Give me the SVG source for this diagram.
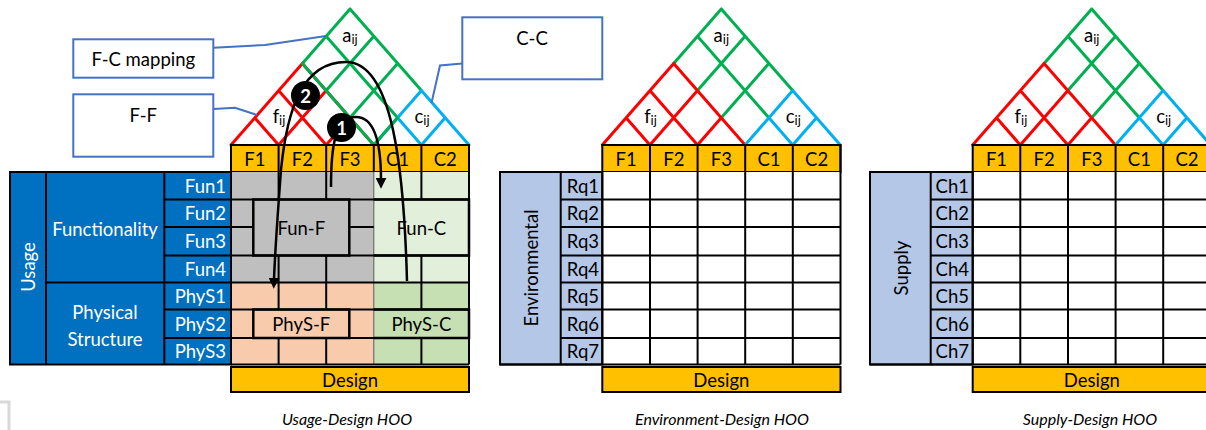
<svg xmlns="http://www.w3.org/2000/svg" width="1206" height="430" viewBox="0 0 1206 430">
<style>
.t{font-family:Lato,"Liberation Sans",sans-serif;font-size:18.5px;fill:#000;text-anchor:middle;dominant-baseline:central}
.e{text-anchor:end}
.w{fill:#fff}
.cap{font-style:italic;font-size:16px}
.hdr{fill:#FFC000;stroke:#000;stroke-width:2}
.ln{fill:none;stroke:#000;stroke-width:2}
.thin{fill:none;stroke:#595959;stroke-width:1}
.box{fill:none;stroke:#000;stroke-width:2.5}
.r{stroke:#FF0000}.g{stroke:#00B050}.c{stroke:#00B0F0}
.co{fill:#fff;stroke:#4472C4;stroke-width:2}
.cl{fill:none;stroke:#4472C4;stroke-width:2}
.arr{fill:none;stroke:#000;stroke-width:2.5;marker-end:url(#ah)}
.lbl{fill:#B4C7E7;stroke:#000;stroke-width:2}
.blue{fill:#0070C0;stroke:#000;stroke-width:2}
.sub{font-size:13px}
</style>
<defs>
<marker id="ah" viewBox="0 0 10 10" refX="2" refY="5" markerWidth="4.4" markerHeight="4.4" orient="auto"><path d="M0,0L10,5L0,10z" fill="#000"/></marker>
<g id="roof" fill="none" stroke-width="3" stroke-linecap="round">
<path class="g" d="M71.4,-81.6L119,-136M95.2,-54.4L142.8,-108.8M119,-27.2L166.6,-81.6M166.6,-27.2L95.2,-108.8M190.4,-54.4L119,-136"/>
<path class="r" d="M0,0L71.4,-81.6M47.6,0L95.2,-54.4M95.2,0L119,-27.2M47.6,0L23.8,-27.2M95.2,0L47.6,-54.4M142.8,0L71.4,-81.6"/>
<path class="c" d="M142.8,0L190.4,-54.4M190.4,0L214.2,-27.2M190.4,0L166.6,-27.2M238,0L190.4,-54.4"/>
</g>
</defs>
<rect width="1206" height="430" fill="#fff"/>

<!-- ============ Usage-Design HOO ============ -->
<g id="house-usage">
<use href="#roof" transform="translate(231,145)"/>
<path d="M373.8,145L302.4,63.4M373.8,145L397.6,117.8" fill="none" stroke="#00B050" stroke-width="3" stroke-linecap="round"/>
<text class="t" x="350" y="35">a<tspan class="sub" dy="4">ij</tspan></text>
<text class="t" x="279" y="116">f<tspan class="sub" dy="4">ij</tspan></text>
<text class="t" x="422" y="116">c<tspan class="sub" dy="4">ij</tspan></text>
<rect class="hdr" x="231" y="145" width="238" height="27"/>
<path class="ln" d="M278.6,145V172M326.2,145V172M373.8,145V172M421.4,145V172"/>
<text class="t" x="254.8" y="158.5">F1</text><text class="t" x="302.4" y="158.5">F2</text><text class="t" x="350" y="158.5">F3</text><text class="t" x="397.6" y="158.5">C1</text><text class="t" x="445.2" y="158.5">C2</text>
<rect x="231" y="172" width="142.8" height="110.5" fill="#BFBFBF"/>
<rect x="373.8" y="172" width="95.2" height="110.5" fill="#E2EFDA"/>
<rect x="231" y="282.5" width="142.8" height="82" fill="#F8CBAD"/>
<rect x="373.8" y="282.5" width="95.2" height="82" fill="#C6E0B4"/>
<path class="thin" d="M373.8,172V364.5"/>
<path class="ln" d="M231,199.5H469M231,227H253.3M349.3,227H373.8M231,255.5H469M231,282.5H469M231,309.5H469M231,338H469M231,364.5H469M278.6,172V199.5M326.2,172V199.5M421.4,172V199.5M278.6,255.5V309.5M326.2,255.5V309.5M421.4,255.5V309.5M278.6,338V364.5M326.2,338V364.5M421.4,338V364.5M469,172V364.5M231,172V364.5"/>
<rect class="box" x="253.3" y="199.5" width="96" height="56"/>
<rect class="box" x="253.3" y="309.5" width="96" height="28.5"/>
<path class="box" d="M373.8,199.5H469V255.5H373.8M373.8,309.5H469V338H373.8"/>
<text class="t" x="301.3" y="227.5">Fun-F</text>
<text class="t" x="421.4" y="227.5">Fun-C</text>
<text class="t" x="301.3" y="323.7">PhyS-F</text>
<text class="t" x="421.4" y="323.7">PhyS-C</text>
<rect class="hdr" x="231" y="367" width="238" height="25"/>
<text class="t" x="350" y="379.5">Design</text>
<rect class="blue" x="10" y="172" width="221" height="192.5"/>
<path class="ln" d="M46,172V364.5M164.3,172V364.5M46,282.5H231M164.3,199.5H231M164.3,227H231M164.3,255.5H231M164.3,309.5H231M164.3,338H231"/>
<text class="t w" transform="translate(28,267) rotate(-90)">Usage</text>
<text class="t w" x="105" y="229">Functionality</text>
<text class="t w" x="105" y="312">Physical</text>
<text class="t w" x="105" y="339">Structure</text>
<text class="t w e" x="226" y="185.7">Fun1</text>
<text class="t w e" x="226" y="213.2">Fun2</text>
<text class="t w e" x="226" y="241.2">Fun3</text>
<text class="t w e" x="226" y="269">Fun4</text>
<text class="t w e" x="226" y="296">PhyS1</text>
<text class="t w e" x="226" y="323.7">PhyS2</text>
<text class="t w e" x="226" y="351.2">PhyS3</text>
<text class="t cap" x="347" y="418">Usage-Design HOO</text>
</g>

<g id="connectors">
<path class="arr" d="M407,281C404,170 393,62 346,62C302,62 287,110 281,170C278,210 275,250 274,280"/>
<path class="arr" d="M331,187C331,150 334,117 356,117C374,117 381,140 381,180"/>
<path class="cl" d="M213.3,47.7L265,45L326,36"/>
<path class="cl" d="M213.3,109L235,107.7L257,115"/>
<path class="cl" d="M462.3,63.5L440,65.5L431.5,103"/>
</g>
<g id="badge-2"><circle cx="305.5" cy="95.5" r="14.5" fill="#000"/><text class="t w" x="305.5" y="96" font-weight="bold">2</text></g>
<g id="badge-1"><circle cx="341.5" cy="127.5" r="14.5" fill="#000"/><text class="t w" x="341.5" y="128" font-weight="bold">1</text></g>

<g id="callout-fc"><rect class="co" x="73.3" y="39.3" width="140" height="38.4"/><text class="t" x="143.3" y="59">F-C mapping</text></g>
<g id="callout-ff"><rect class="co" x="73.3" y="94.3" width="140" height="62.4"/><text class="t" x="143.3" y="115">F-F</text></g>
<g id="callout-cc"><rect class="co" x="462.3" y="17.3" width="140" height="62"/><text class="t" x="532" y="38">C-C</text></g>

<!-- ============ Environment-Design HOO ============ -->
<g id="house-environment">
<use href="#roof" transform="translate(602.3,145)"/>
<text class="t" x="721.3" y="35">a<tspan class="sub" dy="4">ij</tspan></text>
<text class="t" x="650.5" y="116">f<tspan class="sub" dy="4">ij</tspan></text>
<text class="t" x="793.3" y="116">c<tspan class="sub" dy="4">ij</tspan></text>
<rect class="hdr" x="602.3" y="145" width="238.2" height="27"/>
<text class="t" x="626.1" y="158.5">F1</text><text class="t" x="673.8" y="158.5">F2</text><text class="t" x="721.4" y="158.5">F3</text><text class="t" x="769" y="158.5">C1</text><text class="t" x="816.6" y="158.5">C2</text>
<rect x="602.3" y="172" width="238.2" height="192.5" fill="#fff"/>
<rect class="lbl" x="500" y="172" width="102.3" height="192.5"/>
<path class="ln" d="M560.7,172V364.5M560.7,199.5H840.5M560.7,227H840.5M560.7,255.5H840.5M560.7,282.5H840.5M560.7,309.5H840.5M560.7,338H840.5M500,364.5H840.5M650,145V364.5M697.6,145V364.5M745.2,145V364.5M792.8,145V364.5M840.5,145V364.5M602.3,172V364.5"/>
<text class="t" transform="translate(531,268) rotate(-90)">Environmental</text>
<text class="t e" x="599" y="185.7">Rq1</text>
<text class="t e" x="599" y="213.2">Rq2</text>
<text class="t e" x="599" y="241.2">Rq3</text>
<text class="t e" x="599" y="269">Rq4</text>
<text class="t e" x="599" y="296">Rq5</text>
<text class="t e" x="599" y="323.7">Rq6</text>
<text class="t e" x="599" y="351.2">Rq7</text>
<rect class="hdr" x="602.3" y="367" width="238.2" height="25"/>
<text class="t" x="721.4" y="379.5">Design</text>
<text class="t cap" x="722" y="418">Environment-Design HOO</text>
</g>

<!-- ============ Supply-Design HOO ============ -->
<g id="house-supply">
<use href="#roof" transform="translate(972.7,145)"/>
<text class="t" x="1091.7" y="35">a<tspan class="sub" dy="4">ij</tspan></text>
<text class="t" x="1020.9" y="116">f<tspan class="sub" dy="4">ij</tspan></text>
<text class="t" x="1163.7" y="116">c<tspan class="sub" dy="4">ij</tspan></text>
<rect class="hdr" x="972.7" y="145" width="238.2" height="27"/>
<text class="t" x="996.5" y="158.5">F1</text><text class="t" x="1044.2" y="158.5">F2</text><text class="t" x="1091.8" y="158.5">F3</text><text class="t" x="1139.4" y="158.5">C1</text><text class="t" x="1187" y="158.5">C2</text>
<rect x="972.7" y="172" width="238.2" height="192.5" fill="#fff"/>
<rect class="lbl" x="870" y="172" width="102.7" height="192.5"/>
<path class="ln" d="M930.7,172V364.5M930.7,199.5H1211M930.7,227H1211M930.7,255.5H1211M930.7,282.5H1211M930.7,309.5H1211M930.7,338H1211M870,364.5H1211M1020.3,145V364.5M1068,145V364.5M1115.6,145V364.5M1163.2,145V364.5M972.7,172V364.5"/>
<text class="t" transform="translate(901,268) rotate(-90)">Supply</text>
<text class="t e" x="969" y="185.7">Ch1</text>
<text class="t e" x="969" y="213.2">Ch2</text>
<text class="t e" x="969" y="241.2">Ch3</text>
<text class="t e" x="969" y="269">Ch4</text>
<text class="t e" x="969" y="296">Ch5</text>
<text class="t e" x="969" y="323.7">Ch6</text>
<text class="t e" x="969" y="351.2">Ch7</text>
<rect class="hdr" x="972.7" y="367" width="238.2" height="25"/>
<text class="t" x="1091.8" y="379.5">Design</text>
<text class="t cap" x="1090" y="418">Supply-Design HOO</text>
</g>

<path d="M0,402H9V430" fill="none" stroke="#D9D9D9" stroke-width="3"/>
</svg>
